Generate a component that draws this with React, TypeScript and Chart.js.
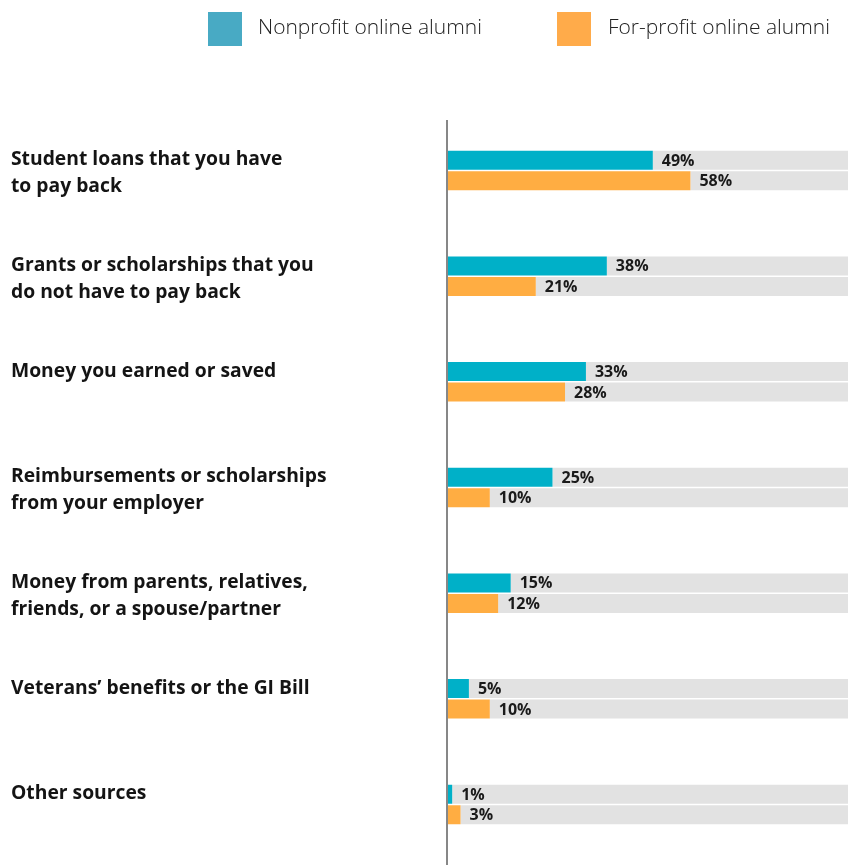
import React, { useEffect, useRef } from "react";
import { Chart, registerables } from "chart.js";

Chart.register(...registerables);

const categories: string[][] = [
  ["Student loans that you have", "to pay back"],
  ["Grants or scholarships that you", "do not have to pay back"],
  ["Money you earned or saved"],
  ["Reimbursements or scholarships", "from your employer"],
  ["Money from parents, relatives,", "friends, or a spouse/partner"],
  ["Veterans\u2019 benefits or the GI Bill"],
  ["Other sources"],
];

const seriesNames = ["Nonprofit online alumni", "For-profit online alumni"];
const nonprofit = [49, 38, 33, 25, 15, 5, 1];
const forprofit = [58, 21, 28, 10, 12, 10, 3];
const fullValue = 100;
const axisMax = 95.7;

const BAR_BLUE = "#00b0c8";
const BAR_ORANGE = "#ffad42";
const LEGEND_BLUE = "#48aac4";
const LEGEND_ORANGE = "#ffab4a";
const TRACK = "#e2e2e2";

const LABEL_FONT = "\"Open Sans\", sans-serif";

const decorPlugin = {
  id: "decor",
  afterDraw(chart: any) {
    const ctx = chart.ctx as CanvasRenderingContext2D;
    const area = chart.chartArea;
    ctx.save();
    // vertical axis line
    ctx.fillStyle = "#878787";
    ctx.fillRect(area.left - 2, 120, 2, chart.height - 120);

    // value labels
    ctx.font = "700 16px " + LABEL_FONT;
    ctx.fillStyle = "#1a1a1a";
    ctx.textAlign = "left";
    ctx.textBaseline = "middle";
    const series = [nonprofit, forprofit];
    series.forEach((vals, di) => {
      const meta = chart.getDatasetMeta(di);
      meta.data.forEach((bar: any, i: number) => {
        const p = bar.getProps(["x", "y"], true);
        ctx.fillText(vals[i] + "%", p.x + 9, p.y + 1);
      });
    });

    // category labels
    ctx.font = "700 19.3px " + LABEL_FONT;
    ctx.fillStyle = "#141414";
    ctx.textBaseline = "alphabetic";
    const meta0 = chart.getDatasetMeta(0);
    meta0.data.forEach((bar: any, i: number) => {
      const p = bar.getProps(["y", "height"], true);
      const top = p.y - p.height / 2;
      categories[i].forEach((line, j) => {
        ctx.fillText(line, 11, top + 14.5 + j * 27);
      });
    });
    ctx.restore();
  },
};

export default function App() {
  const canvasRef = useRef<HTMLCanvasElement | null>(null);

  useEffect(() => {
    if (!canvasRef.current) return;
    const labels = categories.map((c) => c.join(" "));
    const chart = new Chart(canvasRef.current, {
      type: "bar",
      data: {
        labels,
        datasets: [
          {
            label: seriesNames[0],
            data: nonprofit,
            backgroundColor: BAR_BLUE,
            stack: "a",
          },
          {
            label: seriesNames[1],
            data: forprofit,
            backgroundColor: BAR_ORANGE,
            stack: "b",
          },
          {
            label: "track a",
            data: nonprofit.map((v) => fullValue - v),
            backgroundColor: TRACK,
            stack: "a",
          },
          {
            label: "track b",
            data: forprofit.map((v) => fullValue - v),
            backgroundColor: TRACK,
            stack: "b",
          },
        ],
      },
      options: {
        indexAxis: "y",
        responsive: false,
        animation: false,
        maintainAspectRatio: false,
        devicePixelRatio: 1,
        layout: { padding: { left: 448, right: 0, top: 117.7, bottom: 7.7 } },
        datasets: {
          bar: {
            categoryPercentage: 0.388,
            barPercentage: 0.927,
            borderWidth: 0,
          },
        },
        scales: {
          x: { display: false, stacked: true, min: 0, max: axisMax },
          y: { display: false, stacked: true },
        },
        plugins: {
          legend: { display: false },
          tooltip: { enabled: false },
        },
      },
      plugins: [decorPlugin],
    });
    return () => chart.destroy();
  }, []);

  const legendText: React.CSSProperties = {
    position: "absolute",
    top: 9,
    height: 34,
    lineHeight: "34px",
    fontFamily: LABEL_FONT,
    fontWeight: 300,
    fontSize: 21,
    color: "#222",
    whiteSpace: "nowrap",
  };

  return (
    <div style={{ position: "absolute", left: 0, top: 0, width: 848, height: 865, background: "#fff", overflow: "hidden" }}>
      <canvas ref={canvasRef} width={848} height={865} style={{ position: "absolute", left: 0, top: 0, width: 848, height: 865 }} />
      <div style={{ position: "absolute", left: 208, top: 12, width: 34, height: 34, background: LEGEND_BLUE }} />
      <div style={{ ...legendText, left: 258 }}>{seriesNames[0]}</div>
      <div style={{ position: "absolute", left: 557, top: 12, width: 34, height: 34, background: LEGEND_ORANGE }} />
      <div style={{ ...legendText, left: 608 }}>{seriesNames[1]}</div>
    </div>
  );
}
